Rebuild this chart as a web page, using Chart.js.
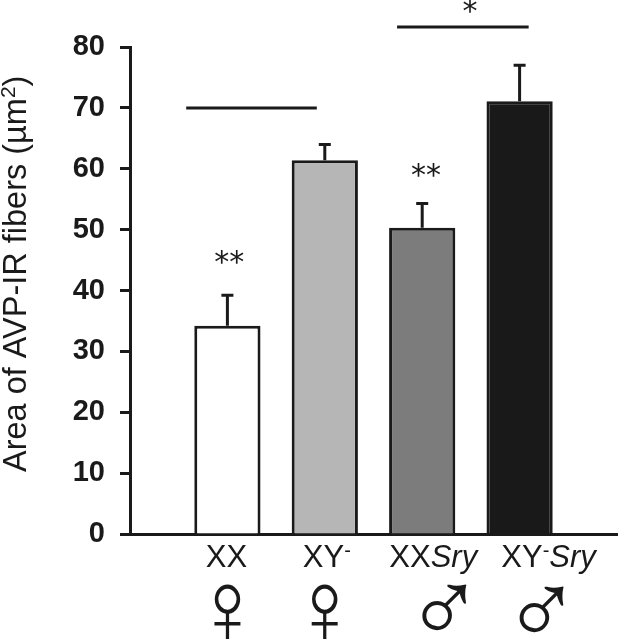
<!DOCTYPE html>
<html>
<head>
<meta charset="utf-8">
<style>
  html, body { margin: 0; padding: 0; background: #fff; }
  canvas { display: block; }
</style>
<script src="https://cdn.jsdelivr.net/npm/chart.js@4"></script>
</head>
<body>
<canvas id="myChart" width="618" height="640"></canvas>
<script>
// blank first and last categories keep the bars where the figure has them
const categories = ["", "XX", "XY-", "XXSry", "XY-Sry", ""];
const means = [null, 34.2, 61.4, 50.3, 71.1, null];
const errorTops = [null, 39.2, 64, 54.3, 77, null];
const fills = ["#fff", "#ffffff", "#b6b6b6", "#7c7c7c", "#191919", "#fff"];
const yTicks = [0, 10, 20, 30, 40, 50, 60, 70, 80];
const sexSymbols = [null, "\u2640", "\u2640", "\u2642", "\u2642", null];
// label pieces: text, style ("n" normal, "i" italic, "s" superscript)
const labelRuns = [
  null,
  [["XX", "n"]],
  [["XY", "n"], ["-", "s"]],
  [["XX", "n"], ["Sry", "i"]],
  [["XY", "n"], ["-", "s"], ["Sry", "i"]],
  null,
];
const brackets = [
  { from: 0.577, to: 1.918, value: 70 },
  { from: 2.742, to: 4.093, value: 83.3 },
];
const stars = [
  { at: 1.02, value: 44.35, text: "**" },
  { at: 3.04, value: 58.6, text: "**" },
  { at: 3.49, value: 85.5, text: "*" },
];

const INK = "#1a1a1a";
const SANS = '"Liberation Sans", Arial, sans-serif';
// labels and symbols sit right of the bars in the figure
const labelShift = [0, -1, 2, 11, 29, 0];
const symbolShift = [0, 0, 0, 22, 22, 0];
const symbolY = [0, 614, 614, 614, 616, 0];

const extras = {
  id: "extras",
  afterDraw(chart) {
    const ctx = chart.ctx;
    const x = chart.scales.x;
    const y = chart.scales.y;
    ctx.save();
    ctx.strokeStyle = INK;
    ctx.fillStyle = INK;

    // error bars
    ctx.lineWidth = 3;
    errorTops.forEach((top, i) => {
      if (top === null) return;
      const px = x.getPixelForValue(i);
      ctx.beginPath();
      ctx.moveTo(px, y.getPixelForValue(means[i]));
      ctx.lineTo(px, y.getPixelForValue(top));
      ctx.moveTo(px - 6, y.getPixelForValue(top));
      ctx.lineTo(px + 6, y.getPixelForValue(top));
      ctx.stroke();
    });

    // significance lines
    brackets.forEach((b) => {
      ctx.beginPath();
      ctx.moveTo(x.getPixelForValue(b.from), y.getPixelForValue(b.value));
      ctx.lineTo(x.getPixelForValue(b.to), y.getPixelForValue(b.value));
      ctx.stroke();
    });

    // asterisks
    ctx.textAlign = "center";
    ctx.textBaseline = "middle";
    ctx.font = '30px "DejaVu Sans"';
    stars.forEach((s) => {
      ctx.fillText(s.text, x.getPixelForValue(s.at), y.getPixelForValue(s.value));
    });

    // category labels with italic and superscript pieces
    ctx.textAlign = "left";
    ctx.textBaseline = "alphabetic";
    const fontFor = (kind) =>
      kind === "i" ? "italic 31px " + SANS : kind === "s" ? "20px " + SANS : "31px " + SANS;
    labelRuns.forEach((runs, i) => {
      if (!runs) return;
      let w = 0;
      runs.forEach(([t, k]) => {
        ctx.font = fontFor(k);
        w += ctx.measureText(t).width;
      });
      let px = x.getPixelForValue(i) + labelShift[i] - w / 2;
      runs.forEach(([t, k]) => {
        ctx.font = fontFor(k);
        ctx.fillText(t, px, k === "s" ? 557 : 567);
        px += ctx.measureText(t).width;
      });
    });

    // sex symbols, female glyph is narrower in the figure
    ctx.textAlign = "center";
    ctx.textBaseline = "middle";
    ctx.font = "104px " + SANS;
    sexSymbols.forEach((sym, i) => {
      if (!sym) return;
      ctx.save();
      ctx.translate(x.getPixelForValue(i) + symbolShift[i], symbolY[i]);
      if (sym === "\u2640") ctx.scale(0.87, 1);
      ctx.fillText(sym, 0, 0);
      ctx.restore();
    });

    // y axis title, the exponent is set by hand to get its size right
    ctx.translate(26, 472);
    ctx.rotate(-Math.PI / 2);
    ctx.textAlign = "left";
    ctx.textBaseline = "alphabetic";
    ctx.font = "32.5px " + SANS;
    ctx.fillText("Area of AVP-IR fibers (\u00b5m", 0, 0);
    let tx = ctx.measureText("Area of AVP-IR fibers (\u00b5m").width;
    ctx.font = "21px " + SANS;
    ctx.fillText("2", tx, -11);
    tx += ctx.measureText("2").width;
    ctx.font = "32.5px " + SANS;
    ctx.fillText(")", tx, 0);
    ctx.restore();
  },
};

new Chart(document.getElementById("myChart").getContext("2d"), {
  type: "bar",
  data: {
    labels: categories,
    datasets: [
      {
        data: means,
        backgroundColor: fills,
        borderColor: INK,
        borderWidth: 3,
        borderSkipped: "bottom",
        barPercentage: 0.68,
        categoryPercentage: 1,
      },
    ],
  },
  options: {
    responsive: false,
    animation: false,
    layout: { padding: { top: 47, right: 1, bottom: 0, left: 0 } },
    plugins: { legend: { display: false }, tooltip: { enabled: false } },
    scales: {
      x: {
        offset: false,
        grid: { display: false },
        border: { display: true, color: INK, width: 3 },
        ticks: { display: false },
        afterFit(axis) {
          axis.height = 106;
        },
      },
      y: {
        min: 0,
        max: 80,
        afterBuildTicks(axis) {
          axis.ticks = yTicks.map((v) => ({ value: v }));
        },
        grid: { drawOnChartArea: false, tickLength: 10, tickWidth: 3, tickColor: INK },
        border: { display: true, color: INK, width: 3 },
        ticks: {
          color: INK,
          padding: 15,
          font: { family: SANS, size: 29, weight: "bold" },
        },
        afterFit(axis) {
          axis.width = 130;
        },
      },
    },
  },
  plugins: [extras],
});
</script>
</body>
</html>
